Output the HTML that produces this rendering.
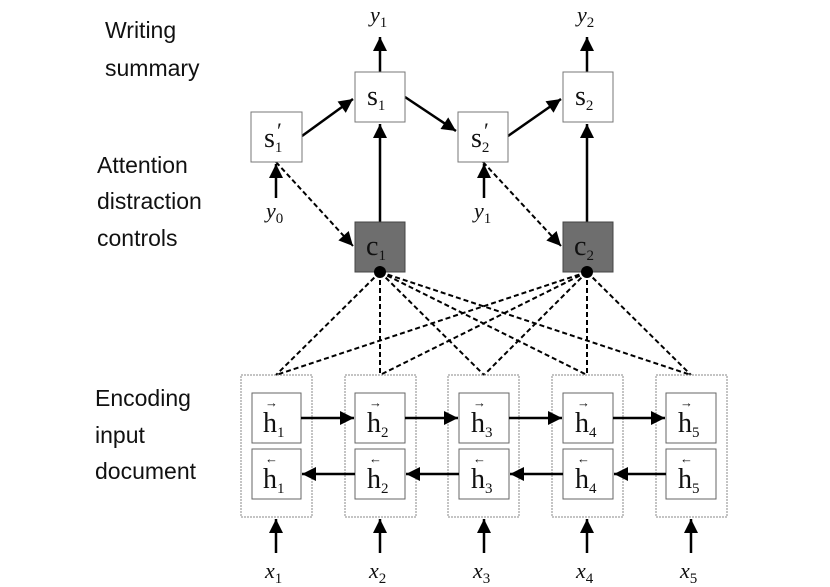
<!DOCTYPE html>
<html><head><meta charset="utf-8"><style>
body{margin:0;background:#fff;width:830px;height:587px;overflow:hidden}
svg{display:block}
.l{font-family:"Liberation Sans",sans-serif;font-size:23px;fill:#111}
.m{font-family:"Liberation Serif",serif;font-size:28px;fill:#111}
.i{font-family:"Liberation Serif",serif;font-style:italic;font-size:22px;fill:#111}
.s{font-size:15px;font-style:normal}
</style></head><body>
<svg width="830" height="587" viewBox="0 0 830 587">
<defs>
<marker id="a" viewBox="0 0 10 10" refX="10" refY="5" markerWidth="16" markerHeight="14" markerUnits="userSpaceOnUse" orient="auto"><path d="M0,0L10,5L0,10z" fill="#000"/></marker>
</defs>
<g class="l">
<text x="105" y="38">Writing</text><text x="105" y="76">summary</text>
<text x="97" y="173">Attention</text><text x="97" y="209">distraction</text><text x="97" y="246">controls</text>
<text x="95" y="406">Encoding</text><text x="95" y="443">input</text><text x="95" y="479">document</text>
</g>
<g stroke="#000" stroke-width="2" stroke-dasharray="5,3" fill="none">
<path d="M380 272L276 375M380 272L380 375M380 272L484 375M380 272L587 375M380 272L691 375"/>
<path d="M587 272L276 375M587 272L380 375M587 272L484 375M587 272L587 375M587 272L691 375"/>
<path d="M276 162L353 246" marker-end="url(#a)"/>
<path d="M483 162L561 246" marker-end="url(#a)"/>
</g>
<g stroke="#000" stroke-width="2.5" fill="none">
<path d="M302 136L353 99" marker-end="url(#a)"/>
<path d="M405 97L456 131" marker-end="url(#a)"/>
<path d="M508 136L561 99" marker-end="url(#a)"/>
<path d="M380 222L380 124" marker-end="url(#a)"/>
<path d="M587 222L587 124" marker-end="url(#a)"/>
<path d="M380 72L380 37" marker-end="url(#a)"/>
<path d="M587 72L587 37" marker-end="url(#a)"/>
<path d="M276 198L276 164" marker-end="url(#a)"/>
<path d="M484 198L484 164" marker-end="url(#a)"/>
</g>
<g stroke="#777" stroke-width="1" fill="#fff">
<rect x="251" y="112" width="51" height="50"/>
<rect x="355" y="72" width="50" height="50"/>
<rect x="458" y="112" width="50" height="50"/>
<rect x="563" y="72" width="50" height="50"/>
<rect x="355" y="222" width="50" height="50" fill="#6e6e6e" stroke="#444"/>
<rect x="563" y="222" width="50" height="50" fill="#6e6e6e" stroke="#444"/>
</g>
<circle cx="380" cy="272" r="6"/><circle cx="587" cy="272" r="6"/>
<g class="m">
<text x="264" y="147">s<tspan class="s" dy="5">1</tspan></text><text x="277" y="138" font-size="22">′</text>
<text x="367" y="105">s<tspan class="s" dy="5">1</tspan></text>
<text x="471" y="147">s<tspan class="s" dy="5">2</tspan></text><text x="484" y="138" font-size="22">′</text>
<text x="575" y="105">s<tspan class="s" dy="5">2</tspan></text>
<text x="366" y="255">c<tspan class="s" dy="5">1</tspan></text>
<text x="574" y="255">c<tspan class="s" dy="5">2</tspan></text>
</g>
<g class="i">
<text x="370" y="22">y<tspan class="s" dy="5">1</tspan></text>
<text x="577" y="22">y<tspan class="s" dy="5">2</tspan></text>
<text x="266" y="218">y<tspan class="s" dy="5">0</tspan></text>
<text x="474" y="218">y<tspan class="s" dy="5">1</tspan></text>
</g>
<g stroke="#888" stroke-width="1" stroke-dasharray="2,1" fill="none">
<rect x="241" y="375" width="71" height="142"/>
<rect x="345" y="375" width="71" height="142"/>
<rect x="448" y="375" width="71" height="142"/>
<rect x="552" y="375" width="71" height="142"/>
<rect x="656" y="375" width="71" height="142"/>
</g>
<g stroke="#666" stroke-width="1" fill="#fff">
<rect x="252" y="393" width="49" height="50"/><rect x="252" y="449" width="49" height="50"/>
<rect x="355" y="393" width="50" height="50"/><rect x="355" y="449" width="50" height="50"/>
<rect x="459" y="393" width="50" height="50"/><rect x="459" y="449" width="50" height="50"/>
<rect x="563" y="393" width="50" height="50"/><rect x="563" y="449" width="50" height="50"/>
<rect x="666" y="393" width="50" height="50"/><rect x="666" y="449" width="50" height="50"/>
</g>
<g stroke="#000" stroke-width="2.5" fill="none">
<path d="M301 418L354 418" marker-end="url(#a)"/><path d="M405 418L458 418" marker-end="url(#a)"/><path d="M509 418L562 418" marker-end="url(#a)"/><path d="M613 418L665 418" marker-end="url(#a)"/>
<path d="M355 474L302 474" marker-end="url(#a)"/><path d="M459 474L406 474" marker-end="url(#a)"/><path d="M563 474L510 474" marker-end="url(#a)"/><path d="M666 474L614 474" marker-end="url(#a)"/>
<path d="M276 553L276 519" marker-end="url(#a)"/><path d="M380 553L380 519" marker-end="url(#a)"/><path d="M484 553L484 519" marker-end="url(#a)"/><path d="M587 553L587 519" marker-end="url(#a)"/><path d="M691 553L691 519" marker-end="url(#a)"/>
</g>
<g class="m">
<text x="263" y="432">h<tspan class="s" dy="5">1</tspan></text><text x="263" y="488">h<tspan class="s" dy="5">1</tspan></text>
<text x="367" y="432">h<tspan class="s" dy="5">2</tspan></text><text x="367" y="488">h<tspan class="s" dy="5">2</tspan></text>
<text x="471" y="432">h<tspan class="s" dy="5">3</tspan></text><text x="471" y="488">h<tspan class="s" dy="5">3</tspan></text>
<text x="575" y="432">h<tspan class="s" dy="5">4</tspan></text><text x="575" y="488">h<tspan class="s" dy="5">4</tspan></text>
<text x="678" y="432">h<tspan class="s" dy="5">5</tspan></text><text x="678" y="488">h<tspan class="s" dy="5">5</tspan></text>
</g>
<g font-family="Liberation Serif,serif" font-size="13" fill="#111">
<text x="265" y="407">→</text><text x="265" y="463">←</text>
<text x="369" y="407">→</text><text x="369" y="463">←</text>
<text x="473" y="407">→</text><text x="473" y="463">←</text>
<text x="577" y="407">→</text><text x="577" y="463">←</text>
<text x="680" y="407">→</text><text x="680" y="463">←</text>
</g>
<g class="i">
<text x="265" y="578">x<tspan class="s" dy="5">1</tspan></text>
<text x="369" y="578">x<tspan class="s" dy="5">2</tspan></text>
<text x="473" y="578">x<tspan class="s" dy="5">3</tspan></text>
<text x="576" y="578">x<tspan class="s" dy="5">4</tspan></text>
<text x="680" y="578">x<tspan class="s" dy="5">5</tspan></text>
</g>
</svg>
</body></html>
